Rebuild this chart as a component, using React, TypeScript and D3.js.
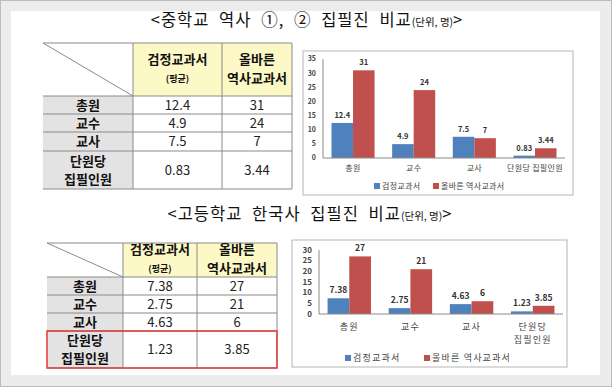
import React from "react";
import * as d3 from "d3";

// categories and values (단위: 명)
const categories = ["총원", "교수", "교사", "단원당 집필인원"];
const rowLabels = [["총원"], ["교수"], ["교사"], ["단원당", "집필인원"]];
const seriesNames = ["검정교과서", "올바른 역사교과서"];

const middleGov = [12.4, 4.9, 7.5, 0.83];
const middleNew = [31, 24, 7, 3.44];
const highGov = [7.38, 2.75, 4.63, 1.23];
const highNew = [27, 21, 6, 3.85];

const middleTicks = [0, 5, 10, 15, 20, 25, 30, 35];
const highTicks = [0, 5, 10, 15, 20, 25, 30];

const BLUE = "#4f81bd";
const RED = "#c0504d";
const KR = "'Noto Sans CJK KR', 'Noto Sans', sans-serif";

interface TableProps {
  xs: number[];
  ys: number[];
  gov: number[];
  neu: number[];
  fs: number;
  redBox?: boolean;
}

const Table = ({ xs, ys, gov, neu, fs, redBox }: TableProps) => {
  const [x0, x1, x2, x3] = xs;
  const hy0 = ys[0];
  const hy1 = ys[1];
  const hMid = (hy0 + hy1) / 2;
  const line = "#8a8a8a";
  return (
    <g fontFamily={KR}>
      <rect x={x1} y={hy0} width={x3 - x1} height={hy1 - hy0} fill="#fcf9c6" />
      <rect x={x0} y={hy1} width={x1 - x0} height={ys[ys.length - 1] - hy1} fill="#e3e3e3" />
      <line x1={x0} y1={hy0} x2={x1} y2={hy1} stroke={line} strokeWidth={1} />
      {ys.map((y, i) => (
        <line key={"h" + i} x1={x0} x2={x3} y1={y} y2={y} stroke={line} strokeWidth={1} />
      ))}
      {[x1, x2, x3].map((x, i) => (
        <line key={"v" + i} x1={x} x2={x} y1={hy0} y2={ys[ys.length - 1]} stroke={line} strokeWidth={1} />
      ))}
      {/* header */}
      <text x={(x1 + x2) / 2} y={hMid - 6} textAnchor="middle" fontSize={fs} fontWeight="bold" fill="#111">
        검정교과서
      </text>
      <text x={(x1 + x2) / 2} y={hMid + 12} textAnchor="middle" fontSize={fs - 4} fontWeight="bold" fill="#111">
        (평균)
      </text>
      <text x={(x2 + x3) / 2} y={hMid - 6} textAnchor="middle" fontSize={fs} fontWeight="bold" fill="#111">
        올바른
      </text>
      <text x={(x2 + x3) / 2} y={hMid + 13} textAnchor="middle" fontSize={fs} fontWeight="bold" fill="#111">
        역사교과서
      </text>
      {rowLabels.map((lab, i) => {
        const top = ys[i + 1];
        const bot = ys[i + 2];
        const mid = (top + bot) / 2;
        return (
          <g key={"r" + i}>
            {lab.map((l, j) => (
              <text
                key={j}
                x={(x0 + x1) / 2}
                y={mid + (j - (lab.length - 1) / 2) * (fs + 5) + fs * 0.36}
                textAnchor="middle"
                fontSize={fs}
                fontWeight="bold"
                fill="#111"
              >
                {l}
              </text>
            ))}
            <text x={(x1 + x2) / 2} y={mid + fs * 0.36} textAnchor="middle" fontSize={fs} fill="#222">
              {String(gov[i])}
            </text>
            <text x={(x2 + x3) / 2} y={mid + fs * 0.36} textAnchor="middle" fontSize={fs} fill="#222">
              {String(neu[i])}
            </text>
          </g>
        );
      })}
      {redBox && (
        <rect
          x={x0}
          y={ys[ys.length - 2]}
          width={x3 - x0}
          height={ys[ys.length - 1] - ys[ys.length - 2]}
          fill="none"
          stroke="#e5383b"
          strokeWidth={1.5}
        />
      )}
    </g>
  );
};

interface ChartProps {
  box: [number, number, number, number];
  xRange: [number, number];
  yRange: [number, number];
  ticks: number[];
  gov: number[];
  neu: number[];
  fs: number;
  wrapLast: boolean;
  catY: number;
  legendY: number;
  legendX: [number, number];
  legendSpacing: number;
}

const Chart = ({ box, xRange, yRange, ticks, gov, neu, fs, wrapLast, catY, legendY, legendX, legendSpacing }: ChartProps) => {
  const x = d3.scaleBand<string>().domain(categories).range(xRange).paddingInner(0.29).paddingOuter(0.14);
  const y = d3.scaleLinear().domain([0, ticks[ticks.length - 1]]).range(yRange);
  const xs = d3.scaleBand<number>().domain([0, 1]).range([0, x.bandwidth()]);
  const series = [gov, neu];
  const colors = [BLUE, RED];
  const [bx, by, bw, bh] = box;
  return (
    <g fontFamily={KR}>
      <rect x={bx} y={by} width={bw} height={bh} fill="#fff" stroke="#b5b5b5" strokeWidth={1} />
      {ticks.map((t) => (
        <text key={t} x={xRange[0] - 7} y={y(t) + fs * 0.35} textAnchor="end" fontSize={fs} fontWeight="bold" fill="#444">
          {t}
        </text>
      ))}
      {categories.map((c, i) => (
        <g key={c}>
          {series.map((s, k) => {
            const v = s[i];
            const bx0 = (x(c) as number) + (xs(k) as number);
            return (
              <g key={k}>
                <rect x={bx0} y={y(v)} width={xs.bandwidth()} height={y(0) - y(v)} fill={colors[k]} />
                <text
                  x={bx0 + xs.bandwidth() / 2}
                  y={y(v) - 5}
                  textAnchor="middle"
                  fontSize={fs + 0.5}
                  fontWeight="bold"
                  fill="#333"
                >
                  {String(v)}
                </text>
              </g>
            );
          })}
        </g>
      ))}
      <line x1={xRange[0]} x2={xRange[0]} y1={yRange[1]} y2={yRange[0]} stroke="#8a8a8a" />
      <line x1={xRange[0]} x2={xRange[1]} y1={yRange[0]} y2={yRange[0]} stroke="#8a8a8a" />
      {categories.map((c) => {
        const cx = (x(c) as number) + x.bandwidth() / 2;
        const parts = wrapLast && c.includes(" ") ? c.split(" ") : [c];
        return parts.map((p, j) => (
          <text key={c + j} x={cx} y={catY + j * 13} textAnchor="middle" fontSize={fs + 1} fill="#444" letterSpacing={legendSpacing}>
            {p}
          </text>
        ));
      })}
      {seriesNames.map((n, k) => (
        <g key={n}>
          <rect x={legendX[k]} y={legendY - 3} width={6} height={6} fill={colors[k]} />
          <text x={legendX[k] + 8} y={legendY + (fs + 1) * 0.36} fontSize={fs + 1} fill="#444" letterSpacing={legendSpacing}>
            {n}
          </text>
        </g>
      ))}
    </g>
  );
};

const Title = ({ x, y, main }: { x: number; y: number; main: string }) => (
  <text x={x} y={y} textAnchor="middle" fontFamily={KR} fontSize={16.5} letterSpacing={1} wordSpacing={5} fill="#111">
    {main}
    <tspan fontSize={10.5} letterSpacing={0} wordSpacing={0}>(단위, 명)</tspan>
    {">"}
  </text>
);

export default function App() {
  return (
    <svg width={612} height={387} style={{ position: "absolute", left: 0, top: 0 }}>
      <rect x={0.5} y={0.5} width={611} height={386} fill="#ececec" stroke="#bcbcbc" />
      <rect x={11} y={11} width={589} height={364} fill="#fff" />

      <Title x={307} y={26} main="<중학교 역사 ①, ② 집필진 비교" />
      <Table xs={[43, 133, 222, 292]} ys={[43, 96, 114, 132, 151, 189]} gov={middleGov} neu={middleNew} fs={13} />
      <Chart
        box={[303, 51, 270, 144]}
        xRange={[323, 565]}
        yRange={[158, 59]}
        ticks={middleTicks}
        gov={middleGov}
        neu={middleNew}
        fs={7}
        wrapLast={false}
        catY={171}
        legendY={186}
        legendX={[374, 433]}
        legendSpacing={0.3}
      />

      <Title x={310} y={220} main="<고등학교 한국사 집필진 비교" />
      <Table xs={[47, 123, 197, 277]} ys={[243, 277, 295, 313, 331, 368]} gov={highGov} neu={highNew} fs={13} redBox />
      <Chart
        box={[292, 240, 275, 127]}
        xRange={[319, 563]}
        yRange={[314, 250]}
        ticks={highTicks}
        gov={highGov}
        neu={highNew}
        fs={8}
        wrapLast={true}
        catY={330}
        legendY={358}
        legendX={[345, 424]}
        legendSpacing={1.2}
      />
    </svg>
  );
}
